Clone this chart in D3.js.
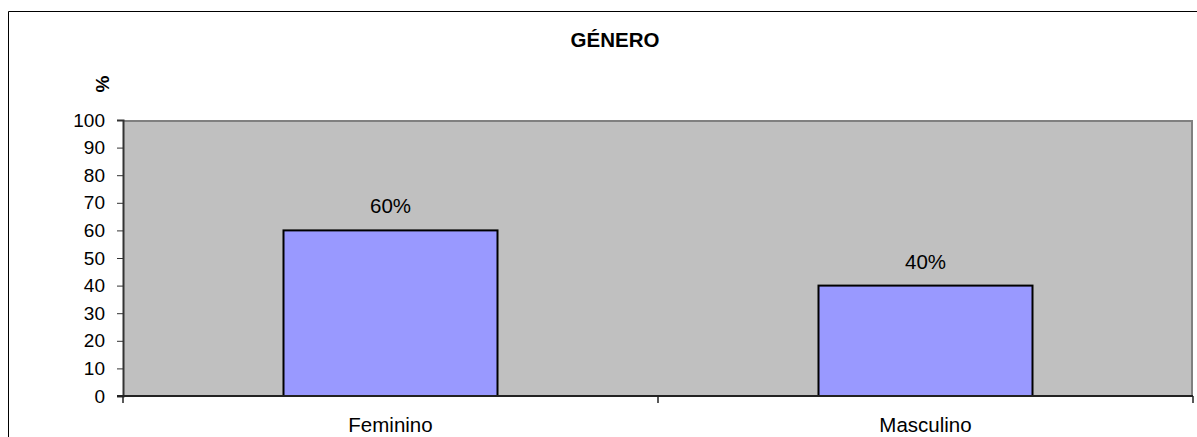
<!DOCTYPE html>
<html>
<head>
<meta charset="utf-8">
<script src="https://cdn.jsdelivr.net/npm/d3@7"></script>
<style>
  body { margin: 0; background: #fff; }
  svg { display: block; font-family: Arial, "Liberation Sans", sans-serif; }
</style>
</head>
<body>
<svg width="1197" height="437"></svg>
<script>
// chart data
const categories = ['Feminino', 'Masculino'];
const values = [60, 40];
const labels = ['60%', '40%'];
const yTicks = [0, 10, 20, 30, 40, 50, 60, 70, 80, 90, 100];

const svg = d3.select('svg');
const width = 1197;
const height = 437;

const margin = { top: 120, right: 4, bottom: 41, left: 123 };
const innerWidth = width - margin.left - margin.right;
const innerHeight = height - margin.top - margin.bottom;

// outer chart frame (runs off the right and bottom edge)
svg.append('path')
  .attr('d', 'M1197,11.5H8.5V437')
  .attr('fill', 'none').attr('stroke', '#000').attr('stroke-width', 1);

svg.append('text')
  .attr('x', 615).attr('y', 47)
  .attr('text-anchor', 'middle')
  .style('font-weight', 'bold').style('font-size', '20.5px')
  .text('GÉNERO');

svg.append('text')
  .attr('transform', 'translate(109,84) rotate(-90)')
  .attr('text-anchor', 'middle')
  .style('font-weight', 'bold').style('font-size', '19px')
  .text('%');

const g = svg.append('g')
  .attr('transform', `translate(${margin.left},${margin.top})`);

const x = d3.scaleBand().domain(categories).range([0, innerWidth]).paddingInner(0).paddingOuter(0);
const y = d3.scaleLinear().domain([0, 100]).range([innerHeight, 0]);

// plot area
g.append('rect')
  .attr('width', innerWidth).attr('height', innerHeight)
  .attr('fill', '#c0c0c0');
g.append('path')
  .attr('d', `M0,1H${innerWidth - 1}V${innerHeight}`)
  .attr('fill', 'none').attr('stroke', '#808080').attr('stroke-width', 2);

// bars
const barW = x.bandwidth() * 0.4;
g.selectAll('rect.bar')
  .data(values)
  .enter()
  .append('rect')
  .attr('class', 'bar')
  .attr('x', (d, i) => x(categories[i]) + (x.bandwidth() - barW) / 2)
  .attr('y', d => y(d))
  .attr('width', barW)
  .attr('height', d => innerHeight - y(d))
  .attr('fill', '#9999ff')
  .attr('stroke', '#000')
  .attr('stroke-width', 2);

g.selectAll('text.lbl')
  .data(values)
  .enter()
  .append('text')
  .attr('class', 'lbl')
  .attr('x', (d, i) => x(categories[i]) + x.bandwidth() / 2)
  .attr('y', d => y(d) - 17)
  .attr('text-anchor', 'middle')
  .style('font-size', '20.5px')
  .text((d, i) => labels[i]);

// y axis
const yAxis = g.append('g')
  .call(d3.axisLeft(y).tickValues(yTicks).tickSize(6).tickPadding(12));
yAxis.select('.domain').attr('stroke', '#333').attr('stroke-width', 2);
yAxis.selectAll('.tick line').attr('stroke', '#333');
yAxis.selectAll('.tick text').style('font-size', '19px').attr('fill', '#000');

// x axis
const xAxis = g.append('g')
  .attr('transform', `translate(0,${innerHeight})`)
  .call(d3.axisBottom(x).tickSize(0).tickPadding(21));
xAxis.select('.domain').remove();
xAxis.selectAll('.tick text').style('font-size', '20.5px').attr('fill', '#000');
g.append('line')
  .attr('x1', -6).attr('x2', innerWidth)
  .attr('y1', innerHeight).attr('y2', innerHeight)
  .attr('stroke', '#222').attr('stroke-width', 2);
g.selectAll('line.ctick')
  .data([0, ...categories.map(c => x(c) + x.bandwidth())])
  .enter()
  .append('line')
  .attr('class', 'ctick')
  .attr('x1', d => d).attr('x2', d => d)
  .attr('y1', innerHeight).attr('y2', innerHeight + 7)
  .attr('stroke', '#222').attr('stroke-width', 1.5);
</script>
</body>
</html>
